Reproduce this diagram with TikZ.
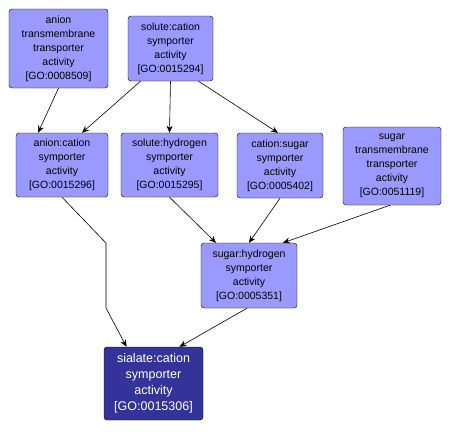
\documentclass[tikz,border=0pt]{standalone}
\usepackage{fontspec}
\setmainfont{Liberation Sans}
\usepackage{xcolor}
\usepackage{tikz}
\usetikzlibrary{arrows.meta}
\definecolor{termfill}{HTML}{9999FF}
\definecolor{queryfill}{HTML}{333399}

\begin{document}
\begin{tikzpicture}[
  x=1pt, y=-1pt,
  box/.style={draw, rounded corners=3pt, fill=termfill, align=center,
              font=\fontsize{10.5}{14}\selectfont, inner sep=2pt},
  query/.style={box, fill=queryfill, text=white,
                font=\fontsize{12.5}{16}\selectfont},
  arr/.style={-{Stealth[length=7pt,width=6pt]}, line width=0.6pt}
]
  \useasboundingbox[fill=white] (0,0) rectangle (452,431);

  \node[box, minimum width=99pt, minimum height=79pt] (anionTrans) at (58.5,48.5)
    {anion\\transmembrane\\transporter\\activity\\{[GO:0008509]}};
  \node[box, minimum width=85pt, minimum height=65pt] (soluteCation) at (170.5,48.5)
    {solute:cation\\symporter\\activity\\{[GO:0015294]}};

  \node[box, minimum width=92pt, minimum height=64pt] (anionCation) at (62,165)
    {anion:cation\\symporter\\activity\\{[GO:0015296]}};
  \node[box, minimum width=97pt, minimum height=64pt] (soluteHydrogen) at (169.5,165)
    {solute:hydrogen\\symporter\\activity\\{[GO:0015295]}};
  \node[box, minimum width=86pt, minimum height=65pt] (cationSugar) at (280,165.5)
    {cation:sugar\\symporter\\activity\\{[GO:0005402]}};
  \node[box, minimum width=98pt, minimum height=78pt] (sugarTrans) at (392,166)
    {sugar\\transmembrane\\transporter\\activity\\{[GO:0051119]}};

  \node[box, minimum width=96pt, minimum height=65pt] (sugarHydrogen) at (249,275.5)
    {sugar:hydrogen\\symporter\\activity\\{[GO:0005351]}};

  \node[query, minimum width=99pt, minimum height=73pt] (sialateCation) at (153.5,383.5)
    {sialate:cation\\symporter\\activity\\{[GO:0015306]}};

  \draw[arr] (anionTrans.south) -- ([xshift=-24pt]anionCation.north);
  \draw[arr] ([xshift=-30pt]soluteCation.south) -- ([xshift=20pt]anionCation.north);
  \draw[arr] (soluteCation.south) -- (soluteHydrogen.north);
  \draw[arr] ([xshift=28pt]soluteCation.south) -- ([xshift=-2pt]cationSugar.north);
  \draw[arr] (anionCation.south) -- (106,243) -- (106,308)
    -- ([xshift=-27pt]sialateCation.north);
  \draw[arr] (soluteHydrogen.south) -- ([xshift=-33pt]sugarHydrogen.north);
  \draw[arr] (cationSugar.south) -- (sugarHydrogen.north);
  \draw[arr] ([xshift=-2pt]sugarTrans.south) -- ([xshift=34pt]sugarHydrogen.north);
  \draw[arr] ([xshift=-2pt]sugarHydrogen.south) -- ([xshift=26pt]sialateCation.north);
\end{tikzpicture}
\end{document}
